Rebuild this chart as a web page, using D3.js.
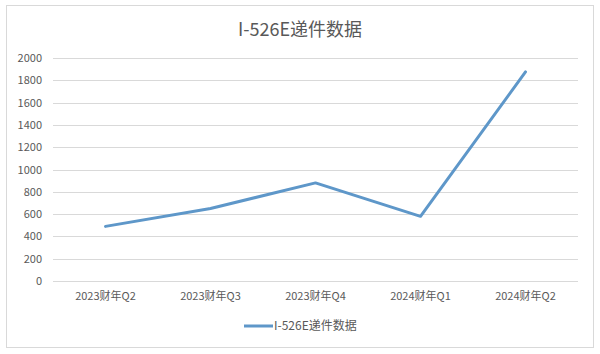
<!DOCTYPE html>
<html>
<head>
<meta charset="utf-8">
<script src="https://cdn.jsdelivr.net/npm/d3@7"></script>
<style>
  body { margin: 0; background: #fff; }
  text { font-family: "Noto Sans CJK SC", "Noto Sans", sans-serif; fill: #595959; }
</style>
</head>
<body>
<script>
const title = 'I-526E递件数据';
const seriesName = 'I-526E递件数据';
const quarters = ['2023财年Q2', '2023财年Q3', '2023财年Q4', '2024财年Q1', '2024财年Q2'];
const values = [490, 650, 880, 580, 1875];
const yTicks = [0, 200, 400, 600, 800, 1000, 1200, 1400, 1600, 1800, 2000];

const width = 600;
const height = 354;
const margin = { top: 58, right: 22, bottom: 73, left: 53 };
const lineColor = '#5e97c9';

const svg = d3.select('body').append('svg')
  .attr('width', width)
  .attr('height', height);

// chart frame
svg.append('rect')
  .attr('x', 6.5).attr('y', 5.5)
  .attr('width', 587).attr('height', 342)
  .attr('fill', '#fff')
  .attr('stroke', '#d9d9d9');

const x = d3.scaleBand()
  .domain(quarters)
  .range([margin.left, width - margin.right]);

const y = d3.scaleLinear()
  .domain([0, 2000])
  .range([height - margin.bottom, margin.top]);

// gridlines
svg.append('g')
  .selectAll('line')
  .data(yTicks)
  .enter()
  .append('line')
  .attr('x1', margin.left)
  .attr('x2', width - margin.right)
  .attr('y1', d => Math.round(y(d)) + 0.5)
  .attr('y2', d => Math.round(y(d)) + 0.5)
  .attr('stroke', '#d9d9d9');

const yAxis = d3.axisLeft(y).tickValues(yTicks).tickFormat(d3.format('d')).tickSize(0).tickPadding(11);
svg.append('g')
  .attr('transform', `translate(${margin.left},0)`)
  .call(yAxis)
  .call(g => g.select('.domain').remove())
  .selectAll('text')
  .style('font-size', '11px');

const xAxis = d3.axisBottom(x).tickSize(0).tickPadding(11);
svg.append('g')
  .attr('transform', `translate(0,${height - margin.bottom})`)
  .call(xAxis)
  .call(g => g.select('.domain').remove())
  .selectAll('text')
  .style('font-size', '11px');

const line = d3.line()
  .x((d, i) => x(quarters[i]) + x.bandwidth() / 2)
  .y(d => y(d));

svg.append('path')
  .datum(values)
  .attr('d', line)
  .attr('fill', 'none')
  .attr('stroke', lineColor)
  .attr('stroke-width', 3)
  .attr('stroke-linejoin', 'round')
  .attr('stroke-linecap', 'round');

svg.append('text')
  .attr('x', width / 2)
  .attr('y', 36)
  .attr('text-anchor', 'middle')
  .style('font-size', '18px')
  .text(title);

// legend
const legend = svg.append('g').attr('transform', 'translate(244,326)');
legend.append('line')
  .attr('x1', 0).attr('x2', 29)
  .attr('stroke', lineColor)
  .attr('stroke-width', 3);
legend.append('text')
  .attr('x', 30)
  .attr('dy', '0.35em')
  .style('font-size', '12px')
  .text(seriesName);
</script>
</body>
</html>
